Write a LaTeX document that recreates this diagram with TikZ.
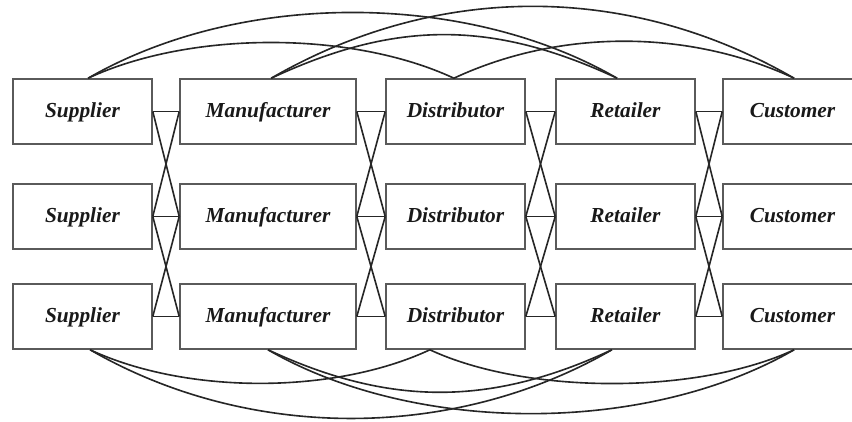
\documentclass[tikz,border=0pt]{standalone}
\usepackage{fontspec}
\setmainfont{Liberation Serif}
\usetikzlibrary{calc}
\definecolor{boxline}{HTML}{5A5A5A}
\definecolor{linkline}{HTML}{262626}
\tikzset{
  stagebox/.style={draw=boxline, line width=1.1pt, minimum height=1.625cm, inner sep=0pt,
    text height=0.8em, text depth=0pt,
    font=\fontsize{15.2}{18}\selectfont\bfseries\itshape, text=black!90},
  link/.style={draw=linkline, line width=1.15pt}
}

\begin{document}
\begin{tikzpicture}[x=0.025cm,y=0.025cm]
  \useasboundingbox (0,0) rectangle (852,421);

  \foreach \n/\x/\w/\t in {s/82.5/139/Supplier,m/268/176/Manufacturer,d/455.5/139/Distributor,r/625.5/139/Retailer,c/792.5/139/Customer}
  \foreach \r/\y in {1/309.5,2/204.5,3/104.5}
      \node[stagebox, minimum width=\w*0.025cm] (\n\r) at (\x,\y) {\t};

  \foreach \a/\b in {s/m,m/d,d/r,r/c}
  \foreach \i/\j in {1/1,2/2,3/3,1/2,2/1,2/3,3/2}
      \draw[link] (\a\i.east) -- (\b\j.west);

  % arcs over the top row
  \draw[link] ([xshift=0.14cm]s1.north) to[out=25,in=155,looseness=0.79] ([xshift=-0.04cm]d1.north);
  \draw[link] ([xshift=0.14cm]s1.north) to[out=30,in=150,looseness=0.85] ([xshift=-0.21cm]r1.north);
  \draw[link] ([xshift=0.08cm]m1.north) to[out=25,in=155,looseness=1.02] ([xshift=-0.21cm]r1.north);
  \draw[link] ([xshift=0.08cm]m1.north) to[out=30,in=150,looseness=0.94] ([xshift=0.04cm]c1.north);
  \draw[link] ([xshift=-0.04cm]d1.north) to[out=25,in=155,looseness=0.88] ([xshift=0.04cm]c1.north);

  % arcs under the bottom row
  \draw[link] ([xshift=0.19cm]s3.south) to[out=-25,in=-155,looseness=0.80] ([xshift=-0.64cm]d3.south);
  \draw[link] ([xshift=0.19cm]s3.south) to[out=-30,in=-150,looseness=0.90] ([xshift=-0.34cm]r3.south);
  \draw[link] (m3.south) to[out=-25,in=-155,looseness=1.0] ([xshift=-0.34cm]r3.south);
  \draw[link] (m3.south) to[out=-30,in=-150,looseness=0.83] ([xshift=0.04cm]c3.south);
  \draw[link] ([xshift=-0.64cm]d3.south) to[out=-25,in=-155,looseness=0.75] ([xshift=0.04cm]c3.south);
\end{tikzpicture}
\end{document}
